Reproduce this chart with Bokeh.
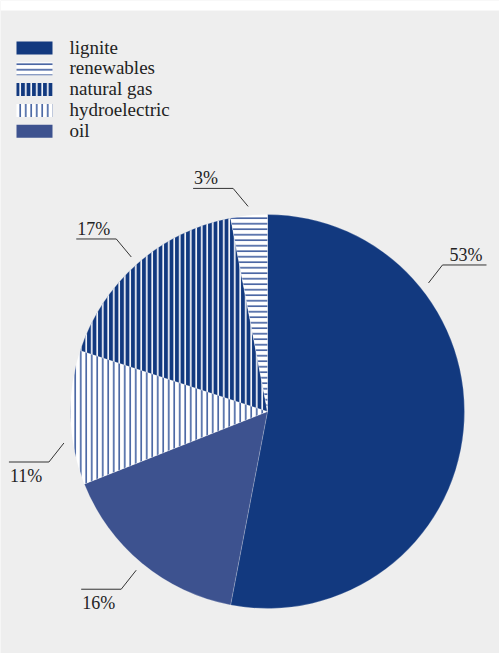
import math
from bokeh.plotting import figure
from bokeh.models import ColumnDataSource, Range1d
from bokeh.core.properties import value
from bokeh.embed import file_html
from bokeh.resources import INLINE

# ---- data ----
slice_categories = ["lignite", "oil", "hydroelectric", "natural gas", "renewables"]  # clockwise from 12 o'clock
slice_values = [53, 16, 11, 17, 3]
legend_categories = ["lignite", "renewables", "natural gas", "hydroelectric", "oil"]

# ---- styles ----
STYLE = {
    "lignite":       dict(fill="#12397f", hatch=" ", hcolor="#12397f"),
    "renewables":    dict(fill="#ffffff", hatch="-", hcolor="#3f5c9e"),
    "natural gas":   dict(fill="#12397f", hatch="|", hcolor="#ffffff"),
    "hydroelectric": dict(fill="#ffffff", hatch="|", hcolor="#41609f"),
    "oil":           dict(fill="#3d528f", hatch=" ", hcolor="#3d528f"),
}
LABEL_SHIFT_DEG = {"lignite": -44, "hydroelectric": -7}

W, H = 499, 653
CXP, CYP, R = 267, 411, 197   # pie centre in page pixels, radius
FONT = value("'Liberation Serif'")

def Y(py):
    return H - py

p = figure(width=W, height=H, output_backend="svg", toolbar_location=None,
           x_axis_type=None, y_axis_type=None, min_border=0,
           x_range=Range1d(0, W), y_range=Range1d(0, H))
p.grid.visible = False
p.outline_line_color = None
p.background_fill_color = "#eeeeee"
p.border_fill_color = "#ffffff"

# white strip at top
p.quad(left=[0], right=[W], bottom=[Y(10)], top=[H], fill_color="#ffffff", line_color=None)

# ---- pie ----
total = float(sum(slice_values))
starts, ends, mids = [], [], []
cum = 0.0
for v in slice_values:
    a0 = cum / total
    cum += v
    a1 = cum / total
    starts.append(math.pi / 2 - 2 * math.pi * a0)
    ends.append(math.pi / 2 - 2 * math.pi * a1)
    mids.append(360 * (a0 + a1) / 2)

src = ColumnDataSource(dict(
    cat=slice_categories,
    start=starts, end=ends,
    fill=[STYLE[c]["fill"] for c in slice_categories],
    hatch=[STYLE[c]["hatch"] for c in slice_categories],
    hcolor=[STYLE[c]["hcolor"] for c in slice_categories],
))
p.wedge(x=CXP, y=Y(CYP), radius=R, start_angle="start", end_angle="end",
        direction="clock", source=src, fill_color="fill", hatch_pattern="hatch",
        hatch_color="hcolor", hatch_scale=5.5, hatch_weight=1.6,
        line_color="#ffffff", line_width=0.4, line_alpha=0.5)

# ---- leader lines and labels ----
xs, ys = [], []
tx, ty, tt, talign = [], [], [], []
for c, v, m in zip(slice_categories, slice_values, mids):
    th = math.radians(m + LABEL_SHIFT_DEG.get(c, 0))
    r1 = R + 9
    sx = CXP + r1 * math.sin(th)
    sy = CYP - r1 * math.cos(th)
    right = math.sin(th) > 0
    up = math.cos(th) > 0
    ex = sx + (14 if right else -15)
    ey = sy - 18 if up else sy + 19
    fx = ex + (44 if right else -40)
    xs.append([sx, ex, fx])
    ys.append([Y(sy), Y(ey), Y(ey)])
    if right:
        tx.append(fx - 4); talign.append("right")
    else:
        tx.append(fx + 1); talign.append("left")
    ty.append(Y(ey - 10) if up else Y(ey + 14))
    tt.append(f"{v}%")

p.multi_line(xs=xs, ys=ys, line_color="#333333", line_width=1)
p.text(x=tx, y=ty, text=tt, text_align=talign, text_baseline="middle",
       text_font=FONT, text_font_size="18px", text_color="#222222")

# ---- legend ----
lx, ly = [], []
for i, c in enumerate(legend_categories):
    lx.append(34)
    ly.append(Y(47.5 + i * 20.8))
lsrc = ColumnDataSource(dict(
    x=lx, y=ly, cat=legend_categories,
    fill=[STYLE[c]["fill"] for c in legend_categories],
    hatch=[STYLE[c]["hatch"] for c in legend_categories],
    hcolor=[STYLE[c]["hcolor"] for c in legend_categories],
    tx=[69] * len(lx), ty=[y + 1 for y in ly],
))
p.rect(x="x", y="y", width=36, height=13, source=lsrc, fill_color="fill",
       hatch_pattern="hatch", hatch_color="hcolor", hatch_scale=5.5, hatch_weight=1.6,
       line_color=None)
p.text(x="tx", y="ty", text="cat", source=lsrc, text_align="left",
       text_baseline="middle", text_font=FONT, text_font_size="19px",
       text_color="#222222")

open("out.html", "w").write(file_html(p, INLINE))
